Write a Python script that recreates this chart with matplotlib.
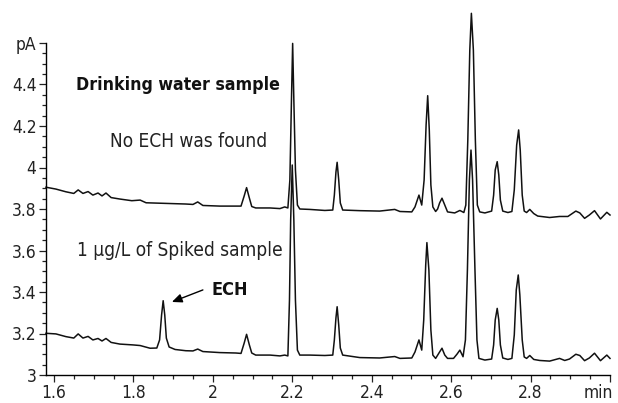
import matplotlib
matplotlib.use("Agg")
import matplotlib.pyplot as plt
import matplotlib.transforms as mtransforms
from matplotlib.ticker import MultipleLocator, FixedLocator

# GC-ECD style chromatograms: drinking water sample (top) and 1 ug/L spiked sample (bottom)

upper_time = [1.580, 1.605, 1.630, 1.650, 1.661, 1.673, 1.686, 1.698, 1.711, 1.721,
              1.731, 1.744, 1.766, 1.796, 1.817, 1.832, 1.882, 1.932, 1.950, 1.962,
              1.975, 2.018, 2.058, 2.071, 2.079, 2.085, 2.092, 2.098, 2.108, 2.144,
              2.169, 2.181, 2.189, 2.194, 2.198, 2.201, 2.204, 2.208, 2.213, 2.219,
              2.244, 2.282, 2.302, 2.306, 2.310, 2.313, 2.317, 2.321, 2.327, 2.370,
              2.420, 2.458, 2.471, 2.501, 2.509, 2.519, 2.526, 2.532, 2.537, 2.541,
              2.545, 2.549, 2.554, 2.561, 2.566, 2.571, 2.577, 2.584, 2.591, 2.609,
              2.622, 2.632, 2.637, 2.642, 2.647, 2.651, 2.656, 2.661, 2.666, 2.672,
              2.685, 2.702, 2.707, 2.711, 2.716, 2.720, 2.724, 2.730, 2.743, 2.753,
              2.759, 2.765, 2.770, 2.774, 2.779, 2.784, 2.790, 2.798, 2.808, 2.818,
              2.848, 2.873, 2.894, 2.914, 2.924, 2.936, 2.948, 2.961, 2.976, 2.992,
              3.000]
upper_pa = [3.905, 3.896, 3.883, 3.875, 3.892, 3.875, 3.884, 3.867, 3.877, 3.863,
            3.877, 3.855, 3.848, 3.840, 3.843, 3.830, 3.827, 3.824, 3.822, 3.834,
            3.817, 3.814, 3.814, 3.814, 3.863, 3.903, 3.853, 3.812, 3.805, 3.805,
            3.802, 3.810, 3.805, 3.940, 4.325, 4.598, 4.325, 3.988, 3.819, 3.800,
            3.798, 3.793, 3.795, 3.867, 3.978, 4.025, 3.940, 3.829, 3.795, 3.792,
            3.790, 3.798, 3.788, 3.786, 3.810, 3.867, 3.819, 3.940, 4.205, 4.346,
            4.181, 3.916, 3.810, 3.788, 3.800, 3.829, 3.852, 3.819, 3.786, 3.781,
            3.793, 3.783, 3.819, 4.133, 4.566, 4.743, 4.566, 4.133, 3.819, 3.786,
            3.781, 3.790, 3.867, 3.988, 4.028, 3.964, 3.843, 3.790, 3.783, 3.788,
            3.892, 4.108, 4.181, 4.084, 3.867, 3.790, 3.783, 3.798, 3.778, 3.766,
            3.759, 3.764, 3.764, 3.790, 3.781, 3.755, 3.771, 3.792, 3.752, 3.784,
            3.771]

lower_time = [1.580, 1.605, 1.630, 1.650, 1.661, 1.673, 1.686, 1.698, 1.711, 1.721,
              1.731, 1.744, 1.766, 1.799, 1.817, 1.842, 1.859, 1.866, 1.871, 1.875,
              1.879, 1.883, 1.890, 1.905, 1.932, 1.950, 1.962, 1.975, 2.018, 2.058,
              2.071, 2.079, 2.085, 2.092, 2.098, 2.108, 2.144, 2.169, 2.181, 2.189,
              2.193, 2.196, 2.200, 2.204, 2.208, 2.213, 2.219, 2.244, 2.282, 2.302,
              2.306, 2.310, 2.313, 2.317, 2.321, 2.327, 2.370, 2.420, 2.458, 2.471,
              2.501, 2.509, 2.519, 2.526, 2.531, 2.536, 2.539, 2.544, 2.549, 2.554,
              2.561, 2.571, 2.577, 2.584, 2.591, 2.606, 2.615, 2.622, 2.630, 2.636,
              2.641, 2.646, 2.650, 2.654, 2.660, 2.665, 2.670, 2.685, 2.702, 2.707,
              2.711, 2.716, 2.720, 2.724, 2.730, 2.743, 2.753, 2.759, 2.764, 2.769,
              2.773, 2.779, 2.784, 2.790, 2.798, 2.808, 2.823, 2.848, 2.873, 2.886,
              2.898, 2.914, 2.924, 2.936, 2.948, 2.961, 2.976, 2.992, 3.000]
lower_pa = [3.201, 3.198, 3.185, 3.178, 3.198, 3.178, 3.186, 3.169, 3.176, 3.164,
            3.176, 3.157, 3.149, 3.145, 3.142, 3.129, 3.130, 3.169, 3.289, 3.358,
            3.289, 3.178, 3.135, 3.123, 3.117, 3.116, 3.125, 3.113, 3.108, 3.106,
            3.104, 3.154, 3.196, 3.145, 3.106, 3.096, 3.096, 3.092, 3.096, 3.092,
            3.361, 3.747, 4.012, 3.747, 3.361, 3.120, 3.096, 3.096, 3.094, 3.096,
            3.169, 3.275, 3.329, 3.241, 3.130, 3.096, 3.084, 3.082, 3.089, 3.080,
            3.082, 3.111, 3.169, 3.120, 3.265, 3.530, 3.638, 3.506, 3.217, 3.096,
            3.080, 3.111, 3.129, 3.096, 3.080, 3.080, 3.101, 3.120, 3.088, 3.169,
            3.506, 3.940, 4.084, 3.940, 3.506, 3.169, 3.080, 3.072, 3.077, 3.145,
            3.265, 3.321, 3.265, 3.145, 3.082, 3.075, 3.080, 3.193, 3.410, 3.482,
            3.386, 3.169, 3.087, 3.080, 3.094, 3.075, 3.070, 3.067, 3.080, 3.070,
            3.077, 3.100, 3.094, 3.069, 3.082, 3.105, 3.069, 3.096, 3.080]

x_ticks = [1.6, 1.8, 2.0, 2.2, 2.4, 2.6, 2.8, 3.0]
x_labels = ["1.6", "1.8", "2", "2.2", "2.4", "2.6", "2.8", "min"]
y_ticks = [3.0, 3.2, 3.4, 3.6, 3.8, 4.0, 4.2, 4.4, 4.6]
y_labels = ["3", "3.2", "3.4", "3.6", "3.8", "4", "4.2", "4.4", "pA"]

plt.rcParams['font.family'] = ['DejaVu Sans']
plt.rcParams['font.stretch'] = 'condensed'

fig = plt.figure(figsize=(6.18, 4.03), dpi=100)
ax = fig.add_axes([46 / 618, 28 / 403, 564 / 618, 332 / 403])

ax.plot(upper_time, upper_pa, color='#111111', lw=1.1, clip_on=False)
ax.plot(lower_time, lower_pa, color='#111111', lw=1.1, clip_on=False)

ax.set_xlim(1.58, 3.0)
ax.set_ylim(3.0, 4.6)
ax.spines['top'].set_visible(False)
ax.spines['right'].set_visible(False)
ax.spines['left'].set_linewidth(1.0)
ax.spines['bottom'].set_linewidth(1.0)

ax.xaxis.set_major_locator(FixedLocator(x_ticks))
ax.set_xticklabels(x_labels)
ax.xaxis.set_minor_locator(MultipleLocator(0.05))
ax.yaxis.set_major_locator(FixedLocator(y_ticks))
ax.set_yticklabels(y_labels)
ax.yaxis.set_minor_locator(MultipleLocator(0.05))
ax.tick_params(which='major', length=4.8, width=0.9, labelsize=12.5, pad=2,
               colors='#222222')
ax.tick_params(which='minor', length=3.2, width=0.9, colors='#222222')

# "min" sits at the right end, pulled back inside the figure
last = ax.get_xticklabels()[-1]
last.set_horizontalalignment('right')
last.set_transform(last.get_transform() +
                   mtransforms.ScaledTranslation(3 / 100, 0, fig.dpi_scale_trans))

ax.text(1.911, 4.398, "Drinking water sample", fontsize=12.7, fontweight='bold',
        ha='center', va='center', color='#111111')
ax.text(1.940, 4.123, "No ECH was found", fontsize=13.7, ha='center', va='center',
        color='#222222')
ax.text(1.916, 3.598, "1 \u00b5g/L of Spiked sample", fontsize=13.7, ha='center',
        va='center', color='#222222')
ax.text(2.042, 3.410, "ECH", fontsize=13, fontweight='bold', ha='center', va='center',
        color='#111111')
ax.annotate("", xy=(1.897, 3.352), xytext=(1.975, 3.41),
            arrowprops=dict(arrowstyle='-|>,head_length=0.5,head_width=0.22',
                            color='black', lw=1.0,
                            mutation_scale=12, shrinkA=0, shrinkB=0))

fig.savefig("out.png", dpi=100)
